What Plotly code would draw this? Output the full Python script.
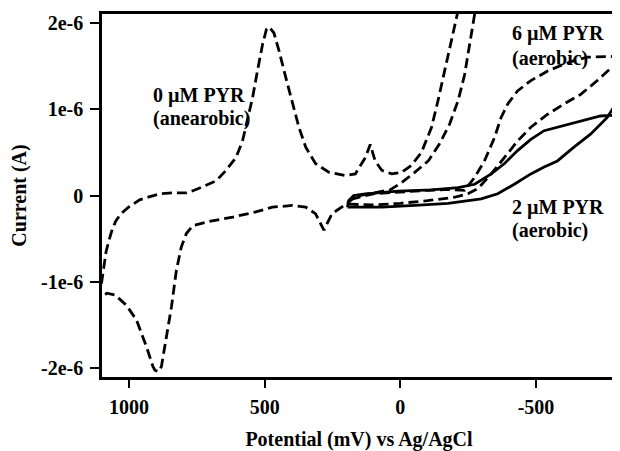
import plotly.graph_objects as go

# Potential (mV) and current (µA)
anaerobic_x = [1102, 1095, 1085, 1077, 1065, 1050, 1030, 1000, 961, 920, 887, 840, 789, 760, 728, 679, 643, 606, 582,
               563, 545, 527, 508, 494, 484, 466, 447, 422, 398, 374, 349, 313, 264, 203, 166, 154, 129, 111, 93, 68,
               32, -5, -41, -78, -115, -139, -164, -188, -210, -228,
               -292, -274, -255, -237, -213, -182, -145, -103, -54, -5, 38, 105, 166, 191,
               215, 252, 282, 313, 349, 398, 472, 533, 618, 704, 765, 789, 808, 826, 844, 863, 881, 893, 905, 912,
               936, 973, 1010, 1052, 1082, 1102]
anaerobic_y = [-1.02, -0.85, -0.65, -0.55, -0.42, -0.30, -0.21, -0.13, -0.05, -0.01, 0.02, 0.03, 0.03, 0.06, 0.10,
               0.17, 0.29, 0.44, 0.63, 0.87, 1.13, 1.44, 1.75, 1.92, 1.95, 1.88, 1.67, 1.36, 1.06, 0.79, 0.56, 0.37,
               0.27, 0.23, 0.25, 0.31, 0.44, 0.59, 0.40, 0.29, 0.25, 0.27, 0.35, 0.50, 0.79, 1.10, 1.44, 1.79, 2.10,
               2.40,
               2.40, 2.10, 1.75, 1.40, 1.10, 0.83, 0.60, 0.40, 0.27, 0.15, 0.065, 0.03, -0.01, -0.08,
               -0.135, -0.21, -0.40, -0.21, -0.135, -0.115, -0.135, -0.19, -0.25, -0.30, -0.35, -0.44, -0.60, -0.87,
               -1.29, -1.67, -1.98, -2.04, -2.02, -1.98, -1.75, -1.44, -1.27, -1.15, -1.13, -1.18]

pyr6_x = [191, 100, 0, -100, -200, -249, -286, -335, -384, -432, -481, -543, -604, -665, -726, -799, -815,
          -815, -799, -740, -689, -640, -604, -543, -481, -432, -396, -371, -347, -310, -274, -237, -180, -100,
          0, 100, 191]
pyr6_y = [-0.10, -0.11, -0.09, -0.06, -0.02, 0.02, 0.08, 0.25, 0.44, 0.63, 0.79, 0.94, 1.06, 1.17, 1.33, 1.54,
          1.60,
          1.62, 1.61, 1.60, 1.60, 1.56, 1.52, 1.44, 1.33, 1.21, 1.06, 0.90, 0.67, 0.40, 0.21, 0.06, 0.07, 0.06,
          0.04, 0.02, -0.05]

pyr2_x = [195, 68, -54, -176, -298, -359, -420, -481, -530, -579, -640, -701, -762, -800, -815,
          -815, -799, -738, -689, -628, -579, -530, -481, -432, -384, -335, -274, -213, -115, 7, 129, 172, 191,
          195]
pyr2_y = [-0.135, -0.135, -0.115, -0.09, -0.04, 0.02, 0.13, 0.25, 0.33, 0.40, 0.56, 0.71, 0.90, 1.08, 1.16,
          0.93, 0.93, 0.92, 0.88, 0.83, 0.79, 0.75, 0.65, 0.52, 0.37, 0.25, 0.13, 0.09, 0.065, 0.05, 0.02, 0.0,
          -0.06, -0.135]

y_ticks = [2e-6, 1e-6, 0, -1e-6, -2e-6]
y_tick_labels = ["2e-6", "1e-6", "0", "-1e-6", "-2e-6"]
x_ticks = [1000, 500, 0, -500]
x_tick_labels = ["1000", "500", "0", "-500"]

# label lines: (text, potential mV, current µA)
label_text = ["0 µM PYR", "(anearobic)", "6 µM PYR", "(aerobic)", "2 µM PYR", "(aerobic)"]
label_x = [915, 915, -407, -407, -407, -407]
label_y = [1.16, 0.895, 1.87, 1.58, -0.135, -0.40]

FONT = "Liberation Serif"
dash = "10px,5px"


def amps(vals):
    return [v * 1e-6 for v in vals]


fig = go.Figure()
fig.add_trace(go.Scatter(x=anaerobic_x, y=amps(anaerobic_y), mode="lines",
                         line=dict(color="black", width=2.8, dash=dash), name="0 µM PYR (anaerobic)"))
fig.add_trace(go.Scatter(x=pyr6_x, y=amps(pyr6_y), mode="lines",
                         line=dict(color="black", width=2.8, dash=dash), name="6 µM PYR (aerobic)"))
fig.add_trace(go.Scatter(x=pyr2_x, y=amps(pyr2_y), mode="lines",
                         line=dict(color="black", width=2.8), name="2 µM PYR (aerobic)"))

tf = dict(family=FONT, size=20, color="black", weight="bold")

annots = []
for t, xv, yv in zip(label_text, label_x, label_y):
    annots.append(dict(x=xv, y=yv * 1e-6, text=t, xanchor="left", yanchor="middle", showarrow=False,
                       font=tf, xref="x", yref="y", borderpad=0))

# The page body has an 8px margin, so the figure is sized to fit inside the window
fig.update_layout(
    width=612, height=443,
    margin=dict(l=94, r=1, t=6, b=74),
    paper_bgcolor="white", plot_bgcolor="white",
    showlegend=False,
    annotations=annots,
    font=tf,
)
fig.update_xaxes(range=[1100, -795], tickvals=x_ticks, ticktext=x_tick_labels, showgrid=False, zeroline=False,
                 showline=True, linecolor="black", linewidth=2.5, mirror=True,
                 ticks="outside", ticklen=8, tickwidth=2, tickcolor="black", tickfont=tf,
                 ticklabelstandoff=2,
                 title=dict(text="Potential (mV) vs Ag/AgCl", font=tf, standoff=16))
fig.update_yaxes(range=[-2.1e-6, 2.1e-6], tickvals=y_ticks, ticktext=y_tick_labels, showgrid=False, zeroline=False,
                 showline=True, linecolor="black", linewidth=2.5, mirror=True,
                 ticks="outside", ticklen=9, tickwidth=2, tickcolor="black", tickfont=tf,
                 ticklabelstandoff=3,
                 title=dict(text="Current (A)", font=tf, standoff=10))

fig.write_html("out.html")
